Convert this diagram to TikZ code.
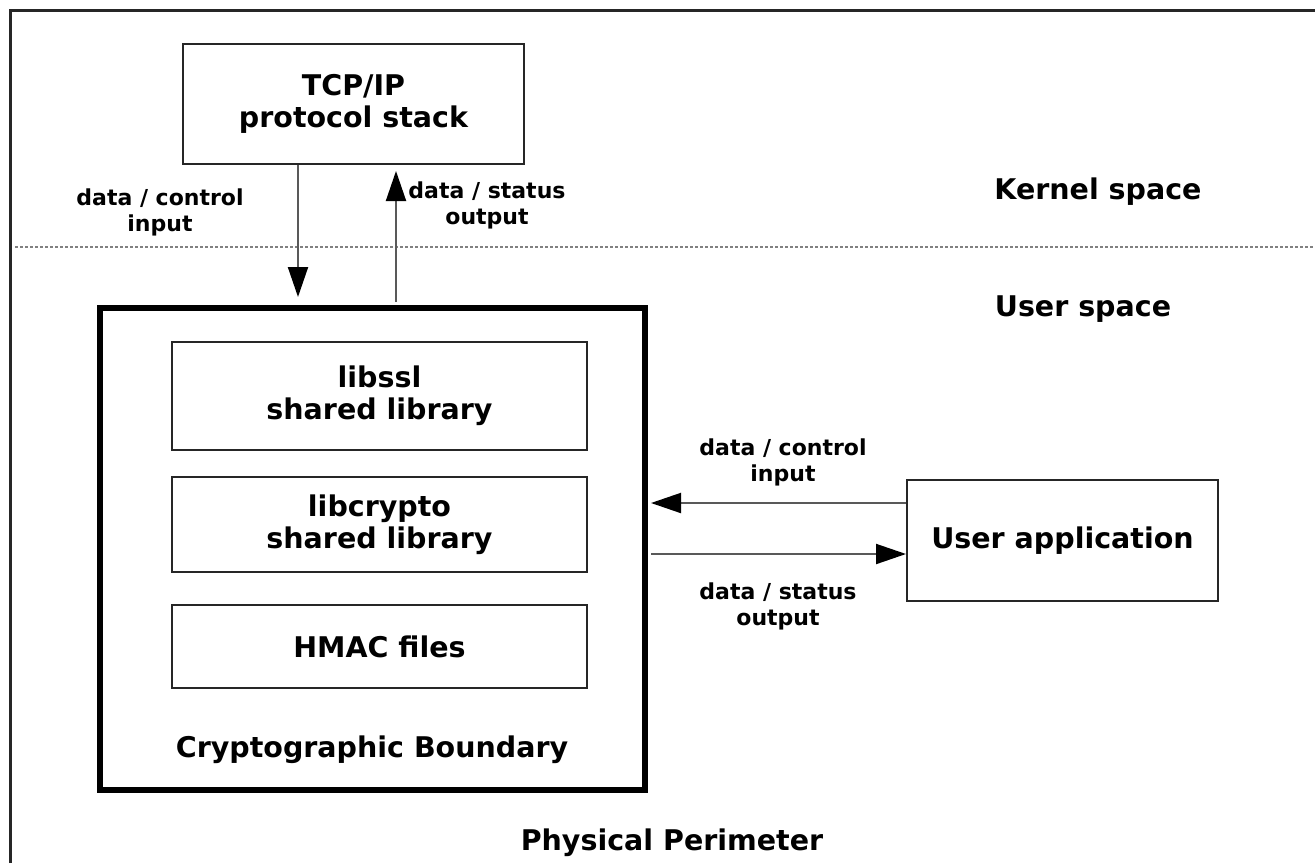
\documentclass[tikz,border=0pt]{standalone}
\usepackage{fontspec}
\setmainfont{DejaVu Sans}
\usetikzlibrary{arrows.meta}
\begin{document}
\begin{tikzpicture}[x=1pt,y=-1pt,
  box/.style={draw=black!85,line width=2pt,inner sep=0pt,align=center,font=\bigf},
  arr/.style={draw=black!65,line width=2pt,-{Triangle[length=30pt,width=20pt,color=black,fill=black]}},
  lbl/.style={align=center,inner sep=0pt,font=\smallf},
  title/.style={inner sep=0pt,font=\bigf}]
\newcommand{\bigf}{\fontsize{28.5}{32}\selectfont\bfseries}
\newcommand{\smallf}{\fontsize{22}{26}\selectfont\bfseries}
\useasboundingbox (0,0) rectangle (1315,863);
\fill[white] (0,0) rectangle (1315,863);
% physical perimeter frame
\draw[line width=3pt,black!85] (10,863) -- (10,10) -- (1315,10);
% dotted kernel/user separator
\draw[gray,line width=1.6pt,dash pattern=on 2.5pt off 2.5pt] (15,247) -- (1315,247);
% boxes
\node[box,minimum width=341pt,minimum height=120pt] (tcp) at (353.5,104) {TCP/IP\\protocol stack};
\node[draw=black,line width=6pt,minimum width=545pt,minimum height=482pt,inner sep=0pt] (cb) at (372.5,549) {};
\node[box,minimum width=415pt,minimum height=108pt] (ssl) at (379.5,396) {libssl\\shared library};
\node[box,minimum width=415pt,minimum height=95pt] (crypto) at (379.5,524.5) {libcrypto\\shared library};
\node[box,minimum width=415pt,minimum height=83pt] (hmac) at (379.5,646.5) {HMAC files};
\node[box,minimum width=311pt,minimum height=121pt] (ua) at (1062.5,540.5) {User application};
% helper coordinates
\coordinate (dx) at (298,0);
\coordinate (ux) at (396,0);
\coordinate (iy) at (0,503);
\coordinate (oy) at (0,554);
% vertical arrows
\draw[arr,shorten >=8pt] (tcp.south -| dx) -- (cb.north -| dx);
\draw[arr,shorten >=6pt,shorten <=3pt] (cb.north -| ux) -- (tcp.south -| ux);
% horizontal arrows
\draw[arr,shorten >=3pt] (ua.west |- iy) -- (cb.east |- iy);
\draw[arr,shorten <=3pt] (cb.east |- oy) -- (ua.west |- oy);
% labels
\node[lbl] (l1) at (160,212) {data / control\\input};
\node[lbl] (l2) at (487,205) {data / status\\output};
\node[lbl] (l3) at (783,462) {data / control\\input};
\node[lbl] (l4) at (778,606) {data / status\\output};
\node[title] (ks) at (1098,192) {Kernel space};
\node[title] (us) at (1083,309) {User space};
\node[title] (cbt) at (372,750) {Cryptographic Boundary};
\node[title] (pp) at (672,843) {Physical Perimeter};
\end{tikzpicture}
\end{document}
